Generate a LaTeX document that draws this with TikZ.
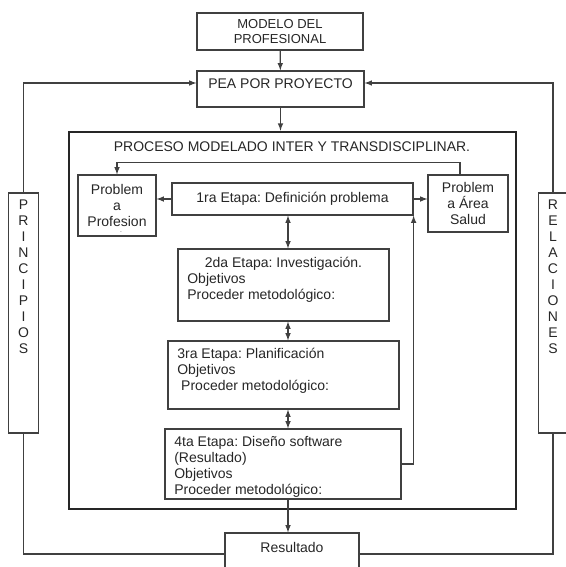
\documentclass[tikz,border=0pt]{standalone}
\usepackage{fontspec}
\setmainfont{Liberation Sans}
\usepackage{tikz}
\frenchspacing
\tikzset{
  caja/.style={draw=black!75, line width=0.9pt, text=black!85, inner sep=0pt, align=center, font=\fontsize{10.5}{12}\selectfont},
  etapa/.style={caja, inner xsep=7pt},
  lateral/.style={caja, minimum width=22pt, minimum height=180pt},
  linea/.style={draw=black!75, line width=0.9pt}
}

\begin{document}
\begin{tikzpicture}[x=0.75pt, y=-0.75pt, >=latex]
            \useasboundingbox (0,0) rectangle (566,567);
            \node[caja, minimum width=124.5pt, minimum height=27.75pt, font=\fontsize{9.75}{11.25}\selectfont] (modelo) at (280,31.5) {MODELO DEL\\PROFESIONAL};
            \node[caja, minimum width=125.25pt, text height=13.5pt, text depth=13.5pt] (pea) at (280.5,89) {PEA POR PROYECTO};
            \node[caja, draw=black!85, line width=2pt, minimum width=335.25pt, minimum height=282.75pt] (proceso) at (292.5,320.5) {};
            \node[text=black!85, inner sep=0pt, font=\fontsize{10.5}{12}\selectfont] (titulo) at (292,147) {PROCESO MODELADO INTER Y TRANSDISCIPLINAR.};
            \node[caja, minimum width=58.5pt, minimum height=45.75pt, label={[anchor=south, inner sep=0pt, xshift=3pt, yshift=2.5pt, text=black!70, font=\tiny]south:.}] (profesion) at (117,205.5) {Problem\\a\\Profesion};
            \node[caja, minimum width=60pt, minimum height=42.75pt] (salud) at (468,203.5) {Problem\\a Área\\Salud};
            \node[caja, minimum width=180.75pt, minimum height=24pt] (etapa1) at (292.5,199) {1ra Etapa: Definición problema};
            \node[etapa] (etapa2) at (283.5,285) {\parbox[c][54pt][t]{144.25pt}{\raggedright\vspace*{5.3pt}\strut\hfill 2da Etapa: Investigación.\hfill\null\\Objetivos\\Proceder metodológico:}};
            \node[etapa] (etapa3) at (283.5,375) {\parbox[c][51pt][t]{159.25pt}{\raggedright\vspace*{4.8pt}\strut 3ra Etapa: Planificación\\Objetivos\\~Proceder metodológico:}};
            \node[etapa] (etapa4) at (283,464) {\parbox[c][52.5pt][t]{163pt}{\raggedright\vspace*{4.8pt}\strut 4ta Etapa: Diseño software\\(Resultado)\\Objetivos\\Proceder metodológico:}};
            \node[caja, minimum width=100.5pt, text height=14.25pt, text depth=17.25pt] (resultado) at (292,554) {Resultado};
            \node[lateral] (principios) at (23.5,313) {\parbox[c][180pt][t]{20pt}{\centering\vspace*{5pt}P\\R\\I\\N\\C\\I\\P\\I\\O\\S}};
            \node[lateral] (relaciones) at (553,313) {\parbox[c][180pt][t]{20pt}{\centering\vspace*{5pt}R\\E\\L\\A\\C\\I\\O\\N\\E\\S}};
            \coordinate (eje) at (288,0);
            \draw[linea, ->] (modelo) -- (pea);
            \draw[linea, ->] (pea) -- (pea |- proceso.north);
            \draw[linea, ->] ([xshift=-6pt]salud.north) -- ++(0,-12) -| (profesion.north);
            \draw[linea, ->] (etapa1.west) -- (profesion.east |- etapa1.west);
            \draw[linea, ->] (etapa1.east) -- (salud.west |- etapa1.east);
            \draw[linea, <->] (etapa1.south -| eje) -- (etapa2.north -| eje);
            \draw[linea, <->] (etapa2.south -| eje) -- (etapa3.north -| eje);
            \draw[linea, <->] (etapa3.south -| eje) -- (etapa4.north -| eje);
            \draw[linea, ->] (etapa4.east) -| (etapa1.south east);
            \draw[linea, ->] (etapa4.south -| eje) -- (resultado.north -| eje);
            \draw[linea] (resultado.west) -| (principios.south);
            \draw[linea] (resultado.east) -| (relaciones.south);
            \draw[linea, ->] (principios.north) |- ([yshift=4.5pt]pea.west);
            \draw[linea, ->] (relaciones.north) |- ([yshift=4.5pt]pea.east);
\end{tikzpicture}
\end{document}
